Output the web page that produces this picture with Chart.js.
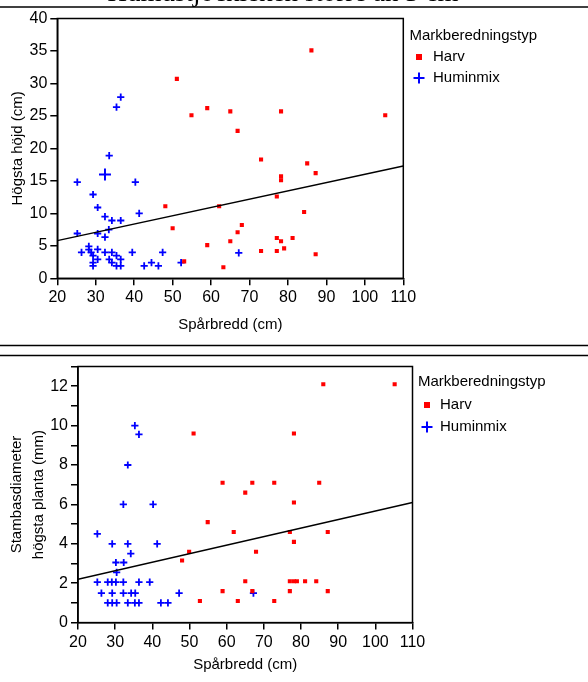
<!DOCTYPE html>
<html><head><meta charset="utf-8">
<script src="https://cdn.jsdelivr.net/npm/chart.js@4.4.0/dist/chart.umd.min.js"></script>
<style>
html,body{margin:0;padding:0;background:#fff;width:588px;height:682px;overflow:hidden;position:relative;}
canvas{position:absolute;left:0;}
#c1{top:0;}
#c2{top:350px;}
</style></head>
<body>
<canvas id="c1" width="588" height="350"></canvas>
<canvas id="c2" width="588" height="332"></canvas>
<script>
// ---------- data ----------
const headerTitle = 'Humustjockleken större än 3 cm';
const legendTitle = 'Markberedningstyp';
const seriesNames = ['Harv', 'Huminmix'];
const xTitle = 'Spårbredd (cm)';
const yTitleTop = 'Högsta höjd (cm)';
const yTitleBottom = ['Stambasdiameter', 'högsta planta (mm)'];

// Top chart: Högsta höjd (cm) vs Spårbredd (cm)
const harvTopX = [86.1, 51.1, 54.9, 59.0, 65.0, 78.2, 105.3, 66.9, 73.0, 85.0, 87.2, 78.2, 78.2, 77.1, 48.1, 62.1, 84.2, 50.0, 68.0, 66.9, 65.0, 59.0, 77.1, 78.2, 81.2, 79.0, 73.0, 77.1, 87.2, 53.0, 63.2];
const harvTopY = [35.1, 30.7, 25.1, 26.2, 25.7, 25.7, 25.1, 22.7, 18.3, 17.7, 16.2, 15.7, 15.1, 12.6, 11.1, 11.1, 10.2, 7.7, 8.2, 7.1, 5.7, 5.1, 6.2, 5.7, 6.2, 4.6, 4.2, 4.2, 3.7, 2.6, 1.7];
const huminTopX = [36.5, 35.4, 33.5, 25.2, 40.3, 29.3, 30.5, 41.3, 32.4, 34.2, 36.5, 33.4, 30.5, 25.2, 32.4, 28.2, 28.2, 30.5, 26.3, 28.8, 32.4, 34.2, 39.5, 47.4, 29.3, 35.4, 30.5, 33.5, 36.5, 29.3, 34.2, 44.5, 52.2, 29.3, 35.4, 36.5, 42.6, 46.3, 67.2];
const huminTopY = [27.9, 26.35, 18.9, 14.8, 14.8, 12.9, 10.9, 10.0, 9.5, 8.9, 8.9, 7.5, 6.9, 6.9, 6.35, 4.9, 4.4, 4.46, 4.0, 4.0, 4.0, 4.0, 4.0, 4.0, 3.5, 3.5, 2.9, 2.9, 2.9, 2.4, 2.4, 2.4, 2.4, 1.9, 1.9, 1.9, 1.9, 1.9, 3.9];
const huminTopMeanX = [32.4];
const huminTopMeanY = [16.0];
const fitTopX = [20, 110];
const fitTopY = [5.8, 17.3];
const xTicksTop = [20, 30, 40, 50, 60, 70, 80, 90, 100, 110];
const yTicksTop = [0, 5, 10, 15, 20, 25, 30, 35, 40];

// Bottom chart: Stambasdiameter högsta planta (mm) vs Spårbredd (cm)
const harvBotX = [86.0, 105.2, 51.1, 78.1, 58.9, 66.9, 72.8, 84.9, 65.0, 78.1, 54.9, 61.9, 77.0, 87.2, 78.1, 49.9, 67.9, 48.0, 65.0, 77.0, 78.1, 78.9, 81.1, 84.1, 58.9, 66.9, 77.0, 87.2, 52.8, 63.0, 72.8];
const harvBotY = [12.1, 12.1, 9.6, 9.6, 7.1, 7.1, 7.1, 7.1, 6.6, 6.1, 5.1, 4.6, 4.6, 4.6, 4.1, 3.6, 3.6, 3.15, 2.1, 2.1, 2.1, 2.1, 2.1, 2.1, 1.6, 1.6, 1.6, 1.6, 1.1, 1.1, 1.1];
const huminBotX = [35.3, 36.4, 33.4, 32.2, 40.2, 25.2, 29.2, 33.4, 41.3, 34.2, 30.2, 32.3, 30.4, 25.2, 28.0, 29.1, 30.2, 32.2, 36.4, 39.3, 26.3, 29.2, 32.2, 34.3, 35.4, 47.2, 67.2, 28.0, 29.2, 30.4, 33.4, 35.3, 36.4, 42.3, 44.2];
const huminBotY = [10.0, 9.55, 8.0, 6.0, 6.0, 4.5, 4.0, 4.0, 4.0, 3.5, 3.05, 3.05, 2.55, 2.05, 2.05, 2.05, 2.05, 2.05, 2.05, 2.05, 1.5, 1.5, 1.5, 1.5, 1.5, 1.5, 1.5, 1.0, 1.0, 1.0, 1.0, 1.0, 1.0, 1.0, 1.0];
const fitBotX = [20, 110];
const fitBotY = [2.2, 6.1];
const xTicksBot = [20, 30, 40, 50, 60, 70, 80, 90, 100, 110];
const yTicksBot = [0, 1, 2, 3, 4, 5, 6, 7, 8, 9, 10, 11, 12, 13];
const yLabelsBot = [0, 2, 4, 6, 8, 10, 12];

// ---------- helpers ----------
const pts = (xs, ys) => xs.map((x, i) => ({x, y: ys[i]}));
const SANS = '"Liberation Sans", Arial, sans-serif';
const RED = '#ff0000', BLUE = '#0000ff';

function drawMarker(ctx, style, cx, cy, r, lw, color) {
  ctx.save();
  if (style === 'rect') {
    ctx.fillStyle = color;
    ctx.fillRect(cx - r, cy - r, 2 * r, 2 * r);
  } else {
    ctx.strokeStyle = color; ctx.lineWidth = lw;
    ctx.beginPath();
    ctx.moveTo(cx - r, cy); ctx.lineTo(cx + r, cy);
    ctx.moveTo(cx, cy - r); ctx.lineTo(cx, cy + r);
    ctx.stroke();
  }
  ctx.restore();
}

function framePlugin(cfg) {
  return {
    id: 'frame',
    afterDraw(chart) {
      const ctx = chart.ctx, a = chart.chartArea;
      ctx.save();
      ctx.strokeStyle = '#000'; ctx.lineWidth = 1.5;
      ctx.strokeRect(a.left, a.top, a.right - a.left, a.bottom - a.top);
      // horizontal rules
      (cfg.rules || []).forEach(y => {
        ctx.beginPath(); ctx.moveTo(0, y); ctx.lineTo(588, y); ctx.stroke();
      });
      // header title
      if (cfg.header) {
        ctx.fillStyle = '#000';
        ctx.font = '27px "Liberation Serif", "Times New Roman", serif';
        ctx.textAlign = 'center'; ctx.textBaseline = 'alphabetic';
        ctx.fillText(cfg.header, cfg.headerX, cfg.headerY);
      }
      // legend
      const L = cfg.legend;
      ctx.fillStyle = '#000';
      ctx.font = '15px ' + SANS;
      ctx.textAlign = 'left'; ctx.textBaseline = 'middle';
      ctx.fillText(legendTitle, L.x, L.y);
      drawMarker(ctx, 'rect', L.mx, L.y1, 3, 0, RED);
      ctx.fillStyle = '#000';
      ctx.fillText(seriesNames[0], L.tx, L.y1);
      drawMarker(ctx, 'cross', L.mx, L.y2, 5.5, 2, BLUE);
      ctx.fillStyle = '#000';
      ctx.fillText(seriesNames[1], L.tx, L.y2);
      ctx.restore();
    }
  };
}

function scaleOpts(o) {
  return {
    type: 'linear', min: o.min, max: o.max,
    afterFit: o.afterFit,
    afterBuildTicks: s => { s.ticks = o.ticks.map(v => ({value: v})); },
    grid: {display: true, drawOnChartArea: false, drawTicks: true, tickLength: 7, color: '#000', lineWidth: 1.5},
    border: {display: true, color: '#000', width: 1.5},
    ticks: {color: '#000', font: {family: SANS, size: 16}, padding: o.tpad, autoSkip: false, maxRotation: 0,
            callback: o.cb || (v => String(v))},
    title: {display: true, text: o.title, color: '#000', font: {family: SANS, size: 15, lineHeight: o.lh || 1.2}, padding: o.titlePad}
  };
}

function makeChart(id, d) {
  return new Chart(document.getElementById(id), {
    type: 'scatter',
    data: {datasets: [
      {type: 'line', label: 'fit', data: pts(d.fitX, d.fitY), borderColor: '#000', borderWidth: 1.5, pointRadius: 0, fill: false, order: 0},
      {label: seriesNames[0], data: pts(d.hx, d.hy), pointStyle: 'rect', pointRadius: 2.9, borderWidth: 0, backgroundColor: RED, borderColor: RED},
      {label: seriesNames[1], data: pts(d.bx, d.by), pointStyle: 'cross', pointRadius: 3.6, borderWidth: 1.8, backgroundColor: BLUE, borderColor: BLUE},
      ...(d.mx ? [{label: seriesNames[1] + ' medel', data: pts(d.mx, d.my), pointStyle: 'cross', pointRadius: 6, borderWidth: 2, backgroundColor: BLUE, borderColor: BLUE}] : [])
    ]},
    options: {
      responsive: false, animation: false, devicePixelRatio: 1, events: [],
      layout: {padding: d.padding},
      plugins: {legend: {display: false}, tooltip: {enabled: false}},
      scales: {x: scaleOpts(d.xs), y: scaleOpts(d.ys)}
    },
    plugins: [framePlugin(d.frame)]
  });
}

makeChart('c1', {
  hx: harvTopX, hy: harvTopY, bx: huminTopX, by: huminTopY, mx: huminTopMeanX, my: huminTopMeanY,
  fitX: fitTopX, fitY: fitTopY,
  padding: {left: 0, top: 18.5, right: 184.7, bottom: 0},
  xs: {min: 20, max: 110, ticks: xTicksTop, title: xTitle, tpad: 3, titlePad: {top: 0, bottom: 16},
       afterFit: s => { s.height = 71.7; }},
  ys: {min: 0, max: 40, ticks: yTicksTop, title: yTitleTop, tpad: 3, titlePad: {top: 9, bottom: 0},
       afterFit: s => { s.width = 57.3; }},
  frame: {rules: [7, 345.5], header: headerTitle, headerX: 283, headerY: 1,
          legend: {x: 409.5, y: 36, mx: 419, tx: 433, y1: 57, y2: 78}}
});

makeChart('c2', {
  hx: harvBotX, hy: harvBotY, bx: huminBotX, by: huminBotY,
  fitX: fitBotX, fitY: fitBotY,
  padding: {left: 0, top: 16.5, right: 175.5, bottom: 0},
  xs: {min: 20, max: 110, ticks: xTicksBot, title: xTitle, tpad: 3, titlePad: {top: 0, bottom: 8},
       afterFit: s => { s.height = 59.4; }},
  ys: {min: 0, max: 13, ticks: yTicksBot, title: yTitleBottom, tpad: 3, lh: 1.507, titlePad: {top: 5.4, bottom: 0},
       cb: v => (yLabelsBot.includes(v) ? String(v) : ''),
       afterFit: s => { s.width = 78; }},
  frame: {rules: [5.5],
          legend: {x: 418, y: 32, mx: 427, tx: 440, y1: 55, y2: 77}}
});
</script>
</body></html>
